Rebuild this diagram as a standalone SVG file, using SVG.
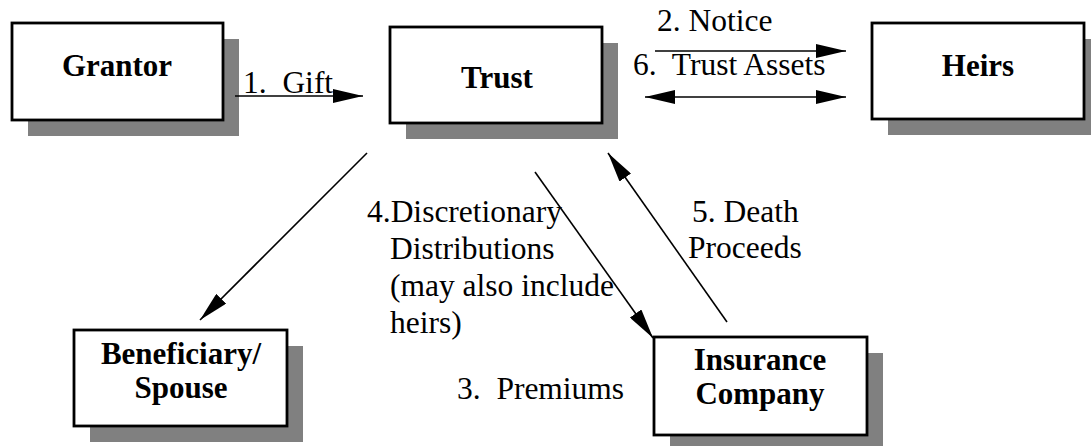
<svg xmlns="http://www.w3.org/2000/svg" width="1091" height="446" viewBox="0 0 1091 446">
<style>
.box{fill:#fff;stroke:#000;stroke-width:2.8}
.sh{fill:#808080}
.nl{font-family:"Liberation Serif","Times New Roman",serif;font-weight:bold;font-size:31px;fill:#000;text-anchor:middle}
.lb{font-family:"Liberation Serif","Times New Roman",serif;font-size:31.5px;fill:#000}
.cn{stroke:#000;stroke-width:1.6;fill:none}
</style>
<defs>
<marker id="ah" viewBox="0 0 30 14" refX="30" refY="7" markerWidth="30" markerHeight="14" markerUnits="userSpaceOnUse" orient="auto-start-reverse">
<path d="M0,0 L30,7 L0,14 z" fill="#000"/>
</marker>
</defs>
<rect width="1091" height="446" fill="#fff"/>
<g id="grantor">
<rect class="sh" x="28" y="39" width="211" height="97"/>
<rect class="box" x="12" y="23" width="211" height="97"/>
<text class="nl" x="117" y="76">Grantor</text>
</g>
<g id="trust">
<rect class="sh" x="406" y="43" width="212" height="96"/>
<rect class="box" x="390" y="27" width="212" height="96"/>
<text class="nl" x="497" y="88">Trust</text>
</g>
<g id="heirs">
<rect class="sh" x="888" y="39" width="212" height="96"/>
<rect class="box" x="872" y="23" width="212" height="96"/>
<text class="nl" x="978" y="76">Heirs</text>
</g>
<g id="beneficiary">
<rect class="sh" x="90" y="346" width="213" height="96"/>
<rect class="box" x="74" y="330" width="213" height="96"/>
<text class="nl" x="181" y="364">Beneficiary/</text>
<text class="nl" x="181" y="398">Spouse</text>
</g>
<g id="insurance">
<rect class="sh" x="670" y="353" width="213" height="98"/>
<rect class="box" x="654" y="337" width="213" height="98"/>
<text class="nl" x="760" y="370">Insurance</text>
<text class="nl" x="760" y="404">Company</text>
</g>
<g id="connectors">
<line class="cn" x1="235" y1="96" x2="363" y2="96" marker-end="url(#ah)"/>
<line class="cn" x1="655" y1="51" x2="846" y2="51" marker-end="url(#ah)"/>
<line class="cn" x1="645" y1="97" x2="846" y2="97" marker-start="url(#ah)" marker-end="url(#ah)"/>
<line class="cn" x1="367" y1="153" x2="200" y2="320" marker-end="url(#ah)"/>
<line class="cn" x1="535" y1="172" x2="653" y2="338" marker-end="url(#ah)"/>
<line class="cn" x1="727" y1="322" x2="608" y2="153" marker-end="url(#ah)"/>
</g>
<g id="labels">
<text class="lb" x="243" y="93" xml:space="preserve">1.  Gift</text>
<text class="lb" x="657" y="31">2. Notice</text>
<text class="lb" x="633" y="75" xml:space="preserve">6.  Trust Assets</text>
<text class="lb" x="367" y="222">4.Discretionary</text>
<text class="lb" x="390" y="259">Distributions</text>
<text class="lb" x="390" y="296">(may also include</text>
<text class="lb" x="390" y="333">heirs)</text>
<text class="lb" x="457" y="399" xml:space="preserve">3.  Premiums</text>
<text class="lb" x="692" y="222">5. Death</text>
<text class="lb" x="688" y="258">Proceeds</text>
</g>
</svg>
